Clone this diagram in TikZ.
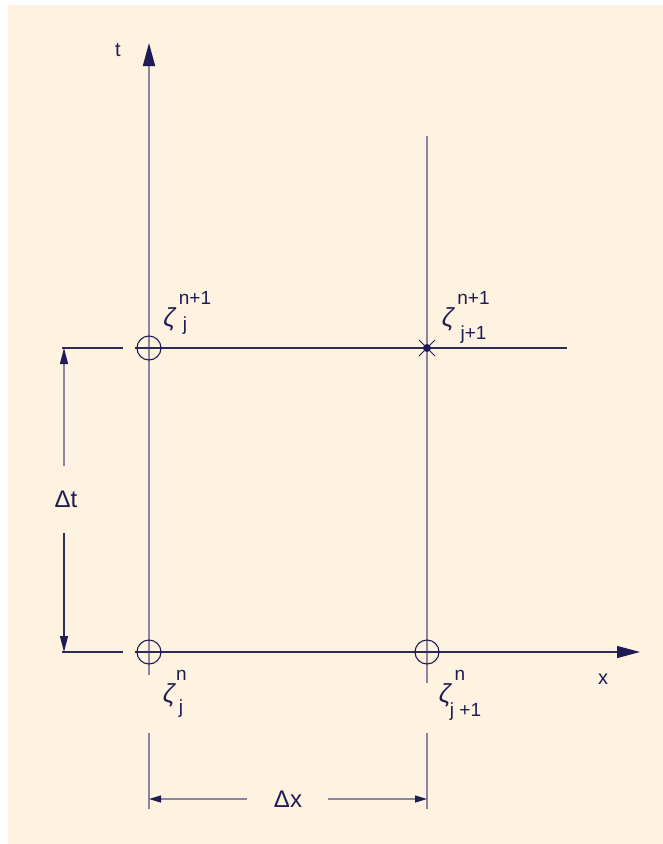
\documentclass[tikz,border=0pt]{standalone}
\usepackage{fontspec}
\setmainfont{Liberation Sans}
\usetikzlibrary{arrows.meta}
\definecolor{bgc}{HTML}{FEF2E0}
\definecolor{navy}{HTML}{1E1B55}
\definecolor{vline}{HTML}{8C84A0}
\definecolor{hline}{HTML}{2D2A5C}
\tikzset{
  vl/.style={draw=vline,line width=1.8pt},
  hl/.style={draw=hline,line width=1.1pt},
  ring/.style={circle,draw=navy,line width=1.1pt,minimum size=24pt,inner sep=0pt},
  lbl/.style={text=navy,inner sep=0pt,font=\fontsize{20}{22}\selectfont},
  zeta/.style={text=navy,inner sep=0pt,font=\fontsize{26}{28}\selectfont\itshape},
  scr/.style={text=navy,inner sep=0pt,font=\fontsize{19}{21}\selectfont},
  dlbl/.style={text=navy,inner sep=0pt,font=\fontsize{24}{26}\selectfont},
  bigtip/.style={-{Triangle[width=12pt,length=23pt,color=navy]}},
  dimtip/.style={-{Triangle[width=8pt,length=16pt,color=navy]}},
  smalltip/.style={-{Triangle[width=7pt,length=12pt,color=navy]}}
}
\begin{document}
\begin{tikzpicture}[x=1pt,y=-1pt]
\useasboundingbox (0,0) rectangle (663,844);
\fill[bgc] (8,5) rectangle (663,844);
% grid coordinates
\coordinate (tbot) at (149,675);
\coordinate (ttop) at (149,43);
\coordinate (rtop) at (427,136);
\coordinate (rbot) at (427,683);
\coordinate (hl0) at (62,348);
\coordinate (hl1) at (123,348);
\coordinate (hl2) at (135,348);
\coordinate (hl3) at (567,348);
\coordinate (bl0) at (62,652);
\coordinate (bl1) at (123,652);
\coordinate (bl2) at (135,652);
\coordinate (xtip) at (640,652);
% axes and grid lines
\draw[vl,bigtip] (tbot) -- (ttop);
\draw[vl] (rbot) -- (rtop);
\draw[hl] (hl0) -- (hl1);
\draw[hl] (hl2) -- (hl3);
\draw[hl] (bl0) -- (bl1);
\draw[hl,bigtip] (bl2) -- (xtip);
% grid points
\node[ring] (p00) at (149,652) {};
\node[ring] (p01) at (149,348) {};
\node[ring] (p10) at (427,652) {};
\node[circle,fill=navy,inner sep=0pt,minimum size=8pt] (p11) at (427,348) {};
\draw[navy,line width=0.9pt] ([shift={(-8,-8)}]p11.center) -- ([shift={(8,8)}]p11.center);
\draw[navy,line width=0.9pt] ([shift={(-8,8)}]p11.center) -- ([shift={(8,-8)}]p11.center);
% axis labels
\node[lbl] (tl) at (118,50) {t};
\node[lbl] (xl) at (603,679) {x};
% zeta labels
\node[zeta] (z01) at (169.5,319.5) {ζ};
\node[scr] (z01s) at (195,297.5) {n+1};
\node[scr] (z01b) at (185,325.5) {j};
\node[zeta] (z11) at (448,319.5) {ζ};
\node[scr] (z11s) at (473.5,297.5) {n+1};
\node[scr] (z11b) at (473.5,334.5) {j+1};
\node[zeta] (z00) at (169,695.5) {ζ};
\node[scr] (z00s) at (181.5,675) {n};
\node[scr] (z00b) at (181,709) {j};
\node[zeta] (z10) at (445,695.5) {ζ};
\node[scr] (z10s) at (460,675) {n};
\node[scr] (z10b) at (465.5,712) {j +1};
% delta t dimension
\node[dlbl] (dt) at (66,499) {Δt};
\coordinate (dta) at (64,466);
\coordinate (dtb) at (64,348);
\coordinate (dtc) at (64,533);
\coordinate (dtd) at (64,652);
\draw[vl,line width=1.3pt,dimtip] (dta) -- (dtb);
\draw[hl,line width=1.3pt,dimtip] (dtc) -- (dtd);
% delta x dimension
\coordinate (ex0a) at (149,733);
\coordinate (ex0b) at (149,809);
\coordinate (ex1a) at (427,733);
\coordinate (ex1b) at (427,809);
\draw[vl,line width=1.3pt] (ex0a) -- (ex0b);
\draw[vl,line width=1.3pt] (ex1a) -- (ex1b);
\node[dlbl] (dx) at (288,799) {Δx};
\coordinate (dxa) at (247,799);
\coordinate (dxb) at (149,799);
\coordinate (dxc) at (328,799);
\coordinate (dxd) at (427,799);
\draw[vl,line width=1.3pt,smalltip] (dxa) -- (dxb);
\draw[vl,line width=1.3pt,smalltip] (dxc) -- (dxd);
\end{tikzpicture}
\end{document}
